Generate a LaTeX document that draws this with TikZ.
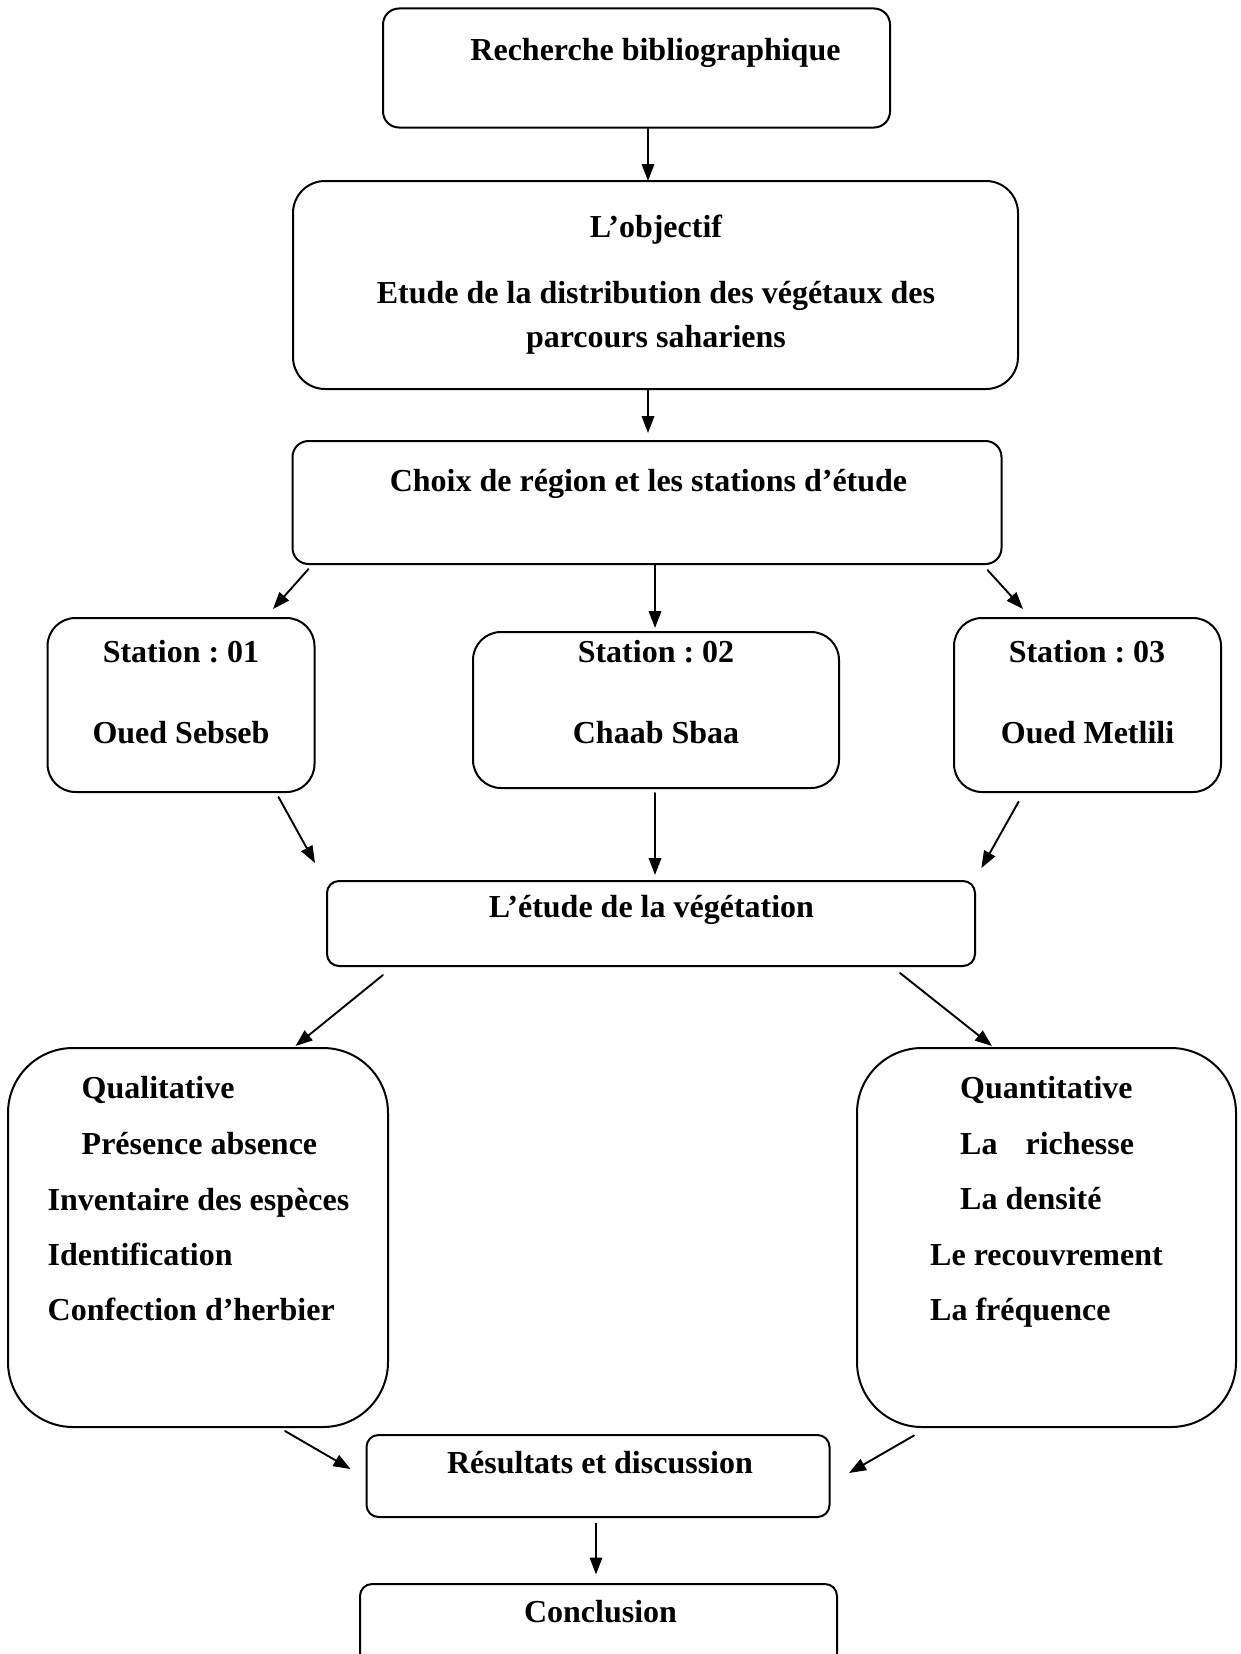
\documentclass[tikz,border=0pt]{standalone}
\usepackage{fontspec}
\setmainfont{Liberation Serif}
\usepackage{tikz}
\usetikzlibrary{arrows.meta}

\begin{document}
\frenchspacing
\begin{tikzpicture}[x=1pt,y=-1pt,line cap=round,line join=round,>={Triangle[length=17pt,width=12.5pt]},
    boite/.style={draw,line width=2pt,inner sep=0pt,outer sep=0pt},
    txt/.style={font=\fontsize{32}{38}\selectfont\bfseries,inner sep=0pt,text height=22pt,text depth=7pt},
    fleche/.style={->,line width=1.9pt}]
        \useasboundingbox (0,0) rectangle (1241,1654);
        \clip (0,0) rectangle (1241,1654);
        %
        \node[boite,rounded corners=16pt,minimum width=507pt,minimum height=119pt] (rech) at (636.5,68) {};
        \node[txt] (rech-t) at (655.5,53) {Recherche bibliographique};
        %
        \node[boite,rounded corners=32pt,minimum width=725pt,minimum height=208pt] (obj) at (655.5,285) {};
        \node[txt] (obj-t1) at (656,230) {L’objectif};
        \node[txt] (obj-t2) at (656,296) {Etude de la distribution des végétaux des};
        \node[txt] (obj-t3) at (656,340) {parcours sahariens};
        %
        \node[boite,rounded corners=16pt,minimum width=709pt,minimum height=123pt] (choix) at (647,502.5) {};
        \node[txt] (choix-t) at (648.5,484) {Choix de région et les stations d’étude};
        %
        \node[boite,rounded corners=28pt,minimum width=267pt,minimum height=174pt] (st1) at (181,705) {};
        \node[txt] (st1-t1) at (181,655) {Station : 01};
        \node[txt] (st1-t2) at (181,736) {Oued Sebseb};
        %
        \node[boite,rounded corners=28pt,minimum width=366pt,minimum height=156pt] (st2) at (656,710) {};
        \node[txt] (st2-t1) at (656,655) {Station : 02};
        \node[txt] (st2-t2) at (656,736) {Chaab Sbaa};
        %
        \node[boite,rounded corners=28pt,minimum width=267pt,minimum height=174pt] (st3) at (1087.5,705) {};
        \node[txt] (st3-t1) at (1087,655) {Station : 03};
        \node[txt] (st3-t2) at (1087.5,736) {Oued Metlili};
        %
        \node[boite,rounded corners=12pt,minimum width=648pt,minimum height=85pt] (veg) at (651,923.5) {};
        \node[txt] (veg-t) at (651.5,910) {L’étude de la végétation};
        %
        \node[boite,rounded corners=65pt,minimum width=380pt,minimum height=379pt] (qual) at (198,1237.5) {};
        \node[txt,anchor=west] (qual-t1) at (81.5,1091) {Qualitative};
        \node[txt,anchor=west] (qual-t2) at (81.5,1147) {Présence absence};
        \node[txt,anchor=west] (qual-t3) at (47.5,1203) {Inventaire des espèces};
        \node[txt,anchor=west] (qual-t4) at (47.5,1258) {Identification};
        \node[txt,anchor=west] (qual-t5) at (47.5,1313) {Confection d’herbier};
        %
        \node[boite,rounded corners=65pt,minimum width=379pt,minimum height=379pt] (quant) at (1046.5,1237.5) {};
        \node[txt,anchor=west] (quant-t1) at (960,1091) {Quantitative};
        \node[txt,anchor=west] (quant-t2) at (960,1147) {La\hspace{28pt}richesse};
        \node[txt,anchor=west] (quant-t3) at (960,1202) {La densité};
        \node[txt,anchor=west] (quant-t4) at (930,1258) {Le recouvrement};
        \node[txt,anchor=west] (quant-t5) at (930,1313) {La fréquence};
        %
        \node[boite,rounded corners=12pt,minimum width=463pt,minimum height=82pt] (res) at (598,1476) {};
        \node[txt] (res-t) at (600,1466) {Résultats et discussion};
        %
        \node[boite,rounded corners=12pt,minimum width=477pt,minimum height=100pt] (concl) at (598.5,1634) {};
        \node[txt] (concl-t) at (600.5,1615) {Conclusion};
        %
        \draw[fleche] ([xshift=11.5pt]rech.south) -- ([xshift=-7.5pt]obj.north);
        \draw[fleche] ([xshift=-7.5pt]obj.south) -- ([xshift=1pt,yshift=8pt]choix.north);
        %
        \draw[fleche] ([xshift=16pt,yshift=-5pt]choix.south west) -- ([xshift=-41.5pt,yshift=9pt]st1.north east);
        \draw[fleche] ([xshift=8pt]choix.south) -- ([xshift=-1pt,yshift=4pt]st2.north);
        \draw[fleche] ([xshift=-14pt,yshift=-6pt]choix.south east) -- ([xshift=69pt,yshift=9pt]st3.north west);
        %
        \draw[fleche] ([xshift=-36pt,yshift=-5pt]st1.south east) -- ([xshift=-12pt,yshift=18pt]veg.north west);
        \draw[fleche] ([xshift=-1pt,yshift=-5pt]st2.south) -- ([xshift=4pt,yshift=6pt]veg.north);
        \draw[fleche] ([xshift=64.6pt,yshift=-9.7pt]st3.south west) -- ([xshift=6.4pt,yshift=13pt]veg.north east);
        %
        \draw[fleche] ([xshift=56pt,yshift=-9pt]veg.south west) -- ([xshift=-92.5pt,yshift=2pt]qual.north east);
        \draw[fleche] ([xshift=-75pt,yshift=-7pt]veg.south east) -- ([xshift=135pt,yshift=2pt]quant.north west);
        %
        \draw[fleche] ([xshift=-103pt,yshift=-4pt]qual.south east) -- ([xshift=-16pt,yshift=7pt]res.west);
        \draw[fleche] ([xshift=57pt,yshift=-8.5pt]quant.south west) -- ([xshift=19.5pt,yshift=3pt]res.east);
        \draw[fleche] ([xshift=-2pt,yshift=-6.6pt]res.south) -- ([xshift=-2.5pt,yshift=9.5pt]concl.north);
\end{tikzpicture}
\end{document}
